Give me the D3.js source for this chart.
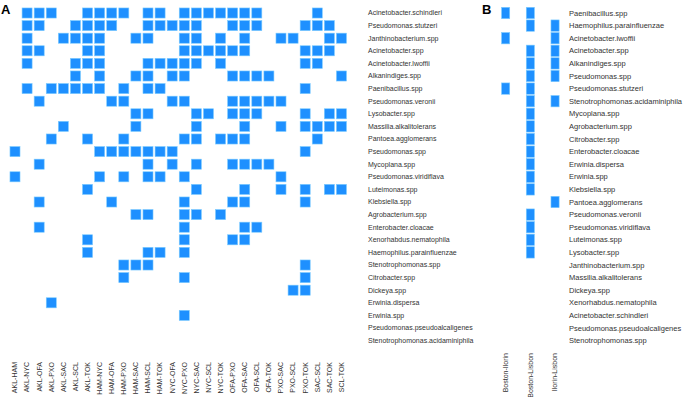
<!DOCTYPE html>
<html>
<head>
<meta charset="utf-8">
<script src="https://cdn.jsdelivr.net/npm/d3@7"></script>
<style>
  body { margin: 0; background: #fff; }
  text { font-family: "Liberation Sans", Arial, sans-serif; }
</style>
</head>
<body>
<script>
// Panel A: city pairs x bacteria
let pairsA = ['AKL-HAM','AKL-NYC','AKL-OFA','AKL-PXO','AKL-SAC','AKL-SCL','AKL-TOK',
  'HAM-NYC','HAM-OFA','HAM-PXO','HAM-SAC','HAM-SCL','HAM-TOK','NYC-OFA','NYC-PXO',
  'NYC-SAC','NYC-SCL','NYC-TOK','OFA-PXO','OFA-SAC','OFA-SCL','OFA-TOK','PXO-SAC',
  'PXO-SCL','PXO-TOK','SAC-SCL','SAC-TOK','SCL-TOK']

let taxaA = ['Acinetobacter.schindleri','Pseudomonas.stutzeri','Janthinobacterium.spp',
  'Acinetobacter.spp','Acinetobacter.lwoffii','Alkanindiges.spp','Paenibacillus.spp',
  'Pseudomonas.veronii','Lysobacter.spp','Massilia.alkalitolerans','Pantoea.agglomerans',
  'Pseudomonas.spp','Mycoplana.spp','Pseudomonas.viridiflava','Luteimonas.spp',
  'Klebsiella.spp','Agrobacterium.spp','Enterobacter.cloacae','Xenorhabdus.nematophila',
  'Haemophilus.parainfluenzae','Stenotrophomonas.spp','Citrobacter.spp','Dickeya.spp',
  'Erwinia.dispersa','Erwinia.spp','Pseudomonas.pseudoalcaligenes',
  'Stenotrophomonas.acidaminiphila']

// 1 = shared between the pair, one string per taxon, one char per pair
let sharedA = [
  '0111001111011011111110000100',
  '0110011110011111001110001110',
  '0100111100110011010100110011',
  '0110001100000011111100001110',
  '0100011100011111010000001100',
  '0000010100110110001111000001',
  '0101111101011000000000001000',
  '0010000011000110001111100000',
  '0000000000110001101110001011',
  '0000100000100001000100101111',
  '0001001001000011011100000100',
  '1000000111111100000000001000',
  '0010000000010101001111000000',
  '1000000101011010000000100000',
  '0000001000000001000100101011',
  '0010000010000010001100001000',
  '0000000000110011010000000000',
  '0010000000000010000110000000',
  '0000001000000010001100000000',
  '0000001000011010000000000000',
  '0000000001110000000000001000',
  '0000000001000010000000001000',
  '0000000000000000000000011000',
  '0001000000000000000000000000',
  '0000000000000010000000000000',
  '0000000000000000000000000000',
  '0000000000000000000000000000'
]

// Panel B
let pairsB = ['Boston-Ilorin','Boston-Lisbon','Ilorin-Lisbon']

let taxaB = ['Paenibacillus.spp','Haemophilus.parainfluenzae','Acinetobacter.lwoffii',
  'Acinetobacter.spp','Alkanindiges.spp','Pseudomonas.spp','Pseudomonas.stutzeri',
  'Stenotrophomonas.acidaminiphila','Mycoplana.spp','Agrobacterium.spp','Citrobacter.spp',
  'Enterobacter.cloacae','Erwinia.dispersa','Erwinia.spp','Klebsiella.spp',
  'Pantoea.agglomerans','Pseudomonas.veronii','Pseudomonas.viridiflava','Luteimonas.spp',
  'Lysobacter.spp','Janthinobacterium.spp','Massilia.alkalitolerans','Dickeya.spp',
  'Xenorhabdus.nematophila','Acinetobacter.schindleri','Pseudomonas.pseudoalcaligenes',
  'Stenotrophomonas.spp']

let sharedB = ['110','011','101','011','011','011','110','011','010','010','010','010',
  '010','010','010','001','010','010','010','010','000','000','000','000','000','000','000']

const blue = '#1e90ff'
const edge = '#7ccbff'

const svg = d3.select('body').append('svg')
  .attr('width', 685)
  .attr('height', 397)

function toCells(taxa, pairs, shared){
  let out = []
  taxa.forEach((t, i) => {
    pairs.forEach((p, j) => {
      if(shared[i][j] === '1') out.push({taxon: t, pair: p})
    })
  })
  return out
}

function panel(opt){
  const x = d3.scaleBand()
    .domain(opt.pairs)
    .range(opt.xRange)
    .paddingInner(opt.padX)
    .paddingOuter(opt.padX / 2)
  const y = d3.scaleBand()
    .domain(opt.taxa)
    .range([6.7, 346.9])
    .paddingInner(opt.padY)
    .paddingOuter(opt.padY / 2)

  const g = svg.append('g')

  g.selectAll('rect')
    .data(toCells(opt.taxa, opt.pairs, opt.shared))
    .enter()
    .append('rect')
    .attr('x', d => x(d.pair))
    .attr('y', d => y(d.taxon))
    .attr('width', x.bandwidth())
    .attr('height', y.bandwidth())
    .attr('fill', blue)
    .attr('stroke', edge)
    .attr('stroke-width', 0.6)

  // row labels
  g.selectAll('text.row')
    .data(opt.taxa)
    .enter()
    .append('text')
    .attr('class', 'row')
    .attr('x', opt.labelX)
    .attr('y', d => y(d) + y.bandwidth() / 2)
    .attr('dy', '0.35em')
    .attr('font-size', opt.rowFont)
    .attr('fill', '#333')
    .text(d => d)

  // column labels
  g.selectAll('text.col')
    .data(opt.pairs)
    .enter()
    .append('text')
    .attr('class', 'col')
    .attr('transform', d => `translate(${x(d) + x.bandwidth() / 2 + 2.4},${opt.colTop}) rotate(-90)`)
    .attr('text-anchor', 'end')
    .attr('font-size', 7)
    .attr('fill', '#333')
    .text(d => d)

  svg.append('text')
    .attr('x', opt.tagX)
    .attr('y', 14)
    .attr('font-size', 13)
    .attr('font-weight', 'bold')
    .attr('fill', '#000')
    .text(opt.tag)
}

panel({
  pairs: pairsA, taxa: taxaA, shared: sharedA,
  xRange: [8.95, 347.5], padX: 0.17, padY: 0.2,
  labelX: 368, rowFont: 7, colTop: 362, tag: 'A', tagX: 1
})

panel({
  pairs: pairsB, taxa: taxaB, shared: sharedB,
  xRange: [493.3, 567.4], padX: 0.67, padY: 0.1,
  labelX: 569, rowFont: 7.5, colTop: 353, tag: 'B', tagX: 482
})
</script>
</body>
</html>
